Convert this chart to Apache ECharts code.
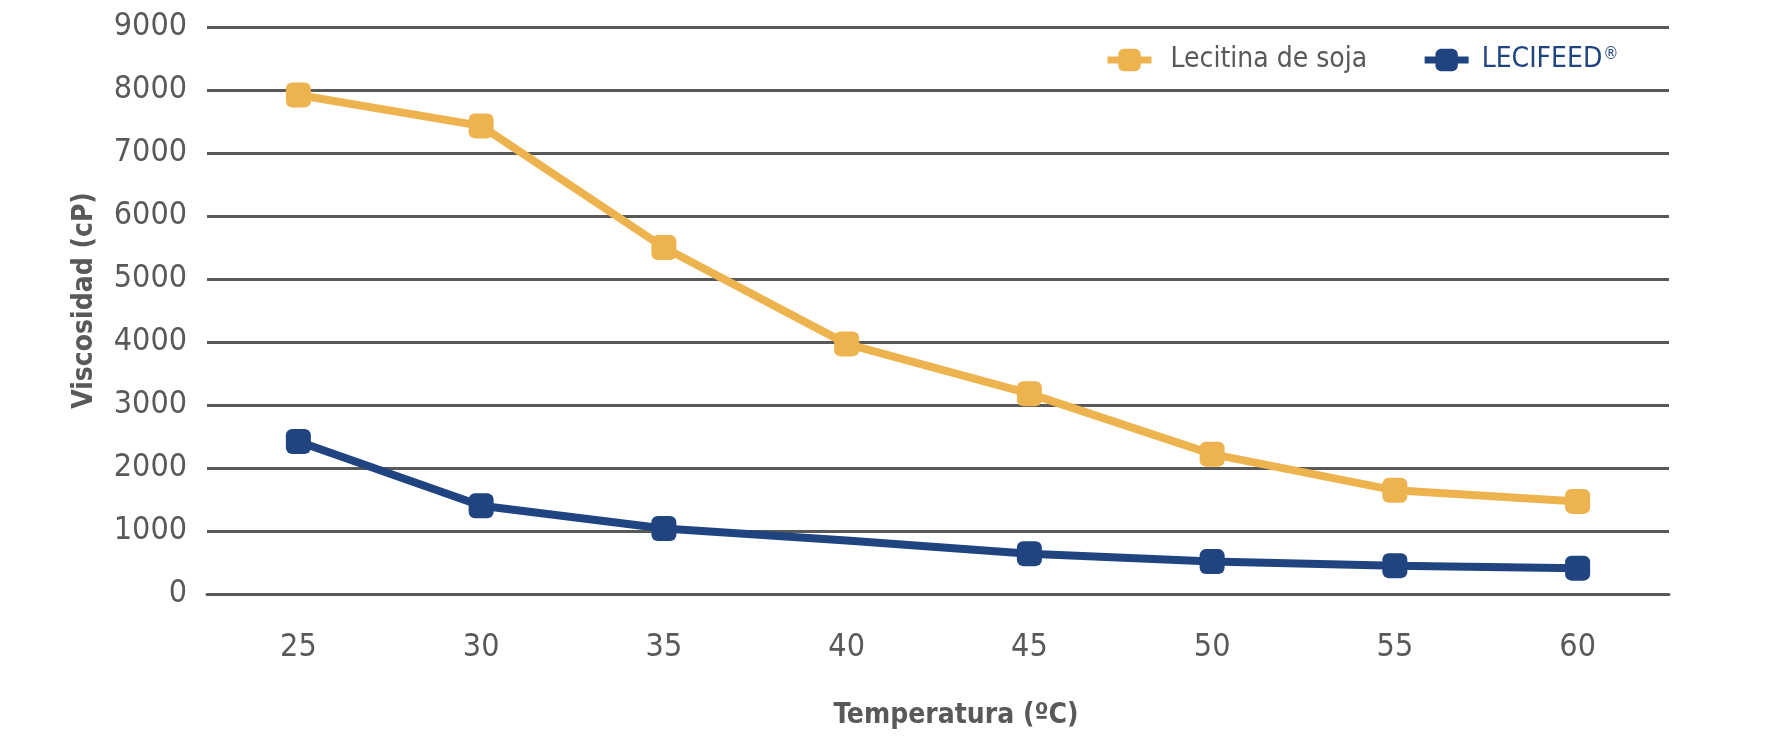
<!DOCTYPE html>
<html>
<head>
<meta charset="utf-8">
<script src="https://cdn.jsdelivr.net/npm/echarts@6/dist/echarts.min.js"></script>
<style>
html,body{margin:0;padding:0;background:#fff;}
#chart{width:1774px;height:740px;}
</style>
</head>
<body>
<div id="chart"></div>
<script>
var categories = ['25', '30', '35', '40', '45', '50', '55', '60'];
var lecitinaSoja = [7920, 7430, 5500, 3970, 3180, 2220, 1645, 1470];
var lecifeed = [2420, 1400, 1040, 850, 640, 515, 450, 410];
var lecifeedNoMarker = ['40'];
var yTicks = {min: 0, max: 9000, interval: 1000};

var FONT = "'Liberation Sans Narrow', 'DejaVu Sans Condensed', sans-serif";
var GRAY = '#595959';
var YELLOW = '#EDB34F';
var BLUE = '#1F4480';

var chart = echarts.init(document.getElementById('chart'));
chart.setOption({
  backgroundColor: '#fff',
  animation: false,
  grid: {left: 207, right: 105, top: 27, bottom: 146, containLabel: false},
  legend: {
    left: 1099, top: 41,
    itemWidth: 44, itemHeight: 28, itemGap: 54,
    lineStyle: {width: 7},
    textStyle: {fontFamily: FONT, fontSize: 28, color: GRAY,
      rich: {
        g: {fontFamily: FONT, fontSize: 28, color: GRAY, padding: [0, 0, 0, 14]},
        b: {fontFamily: FONT, fontSize: 28, color: BLUE, padding: [0, 0, 0, 8]},
        sup: {fontFamily: FONT, fontSize: 17, color: BLUE, verticalAlign: 'top', padding: [0, 0, 11, 1]}
      }},
    formatter: function (n) {
      if (n === 'LECIFEED®') return '{b|LECIFEED}{sup|®}';
      return '{g|' + n + '}';
    },
    data: [
      {name: 'Lecitina de soja'},
      {name: 'LECIFEED®'}
    ]
  },
  xAxis: {
    type: 'category',
    data: categories,
    boundaryGap: true,
    axisLine: {show: true, lineStyle: {color: GRAY, width: 3}},
    axisTick: {show: false},
    axisLabel: {fontFamily: FONT, fontSize: 32, color: GRAY, margin: 38},
    name: 'Temperatura (ºC)',
    nameLocation: 'middle',
    nameGap: 108,
    nameTextStyle: {fontFamily: FONT, fontSize: 28, fontWeight: 'bold', color: GRAY, padding: [0, 0, 0, 36]}
  },
  yAxis: {
    type: 'value',
    min: yTicks.min, max: yTicks.max, interval: yTicks.interval,
    axisLine: {show: false},
    axisTick: {show: false},
    axisLabel: {fontFamily: FONT, fontSize: 32, color: GRAY, margin: 20,
      formatter: function (v) { return String(v); }},
    splitLine: {show: true, lineStyle: {color: GRAY, width: 3}},
    name: 'Viscosidad (cP)',
    nameLocation: 'middle',
    nameRotate: 90,
    nameGap: 108,
    nameTextStyle: {fontFamily: FONT, fontSize: 28, fontWeight: 'bold', color: GRAY, padding: [0, 0, 0, 20]}
  },
  series: [
    {
      name: 'Lecitina de soja',
      type: 'line',
      data: lecitinaSoja,
      symbol: 'roundRect',
      symbolSize: [25, 25],
      showAllSymbol: true,
      lineStyle: {color: YELLOW, width: 8},
      itemStyle: {color: YELLOW},
      z: 3
    },
    {
      name: 'LECIFEED®',
      type: 'line',
      data: lecifeed.map(function (v, i) {
        return lecifeedNoMarker.indexOf(categories[i]) >= 0 ? {value: v, symbol: 'none'} : v;
      }),
      symbol: 'roundRect',
      symbolSize: [25, 25],
      showAllSymbol: true,
      lineStyle: {color: BLUE, width: 8},
      itemStyle: {color: BLUE},
      z: 4
    }
  ]
});
</script>
</body>
</html>
